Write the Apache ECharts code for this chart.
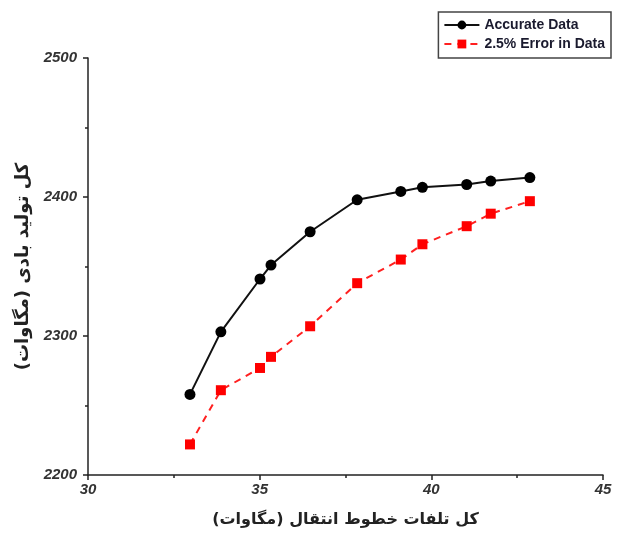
<!DOCTYPE html>
<html>
<head>
<meta charset="utf-8">
<script src="https://cdn.jsdelivr.net/npm/echarts@6/dist/echarts.min.js"></script>
<style>
html,body{margin:0;padding:0;background:#fff;}
#main{width:619px;height:533px;}
</style>
</head>
<body>
<div id="main"></div>
<script>
// داده‌ها - خوانده شده از تصویر
var lossX = [32.97, 33.87, 35.01, 35.33, 36.47, 37.84, 39.11, 39.74, 41.03, 41.73, 42.87];
var accurate = [2258, 2303, 2341, 2351, 2375, 2398, 2404, 2407, 2409, 2411.5, 2414];
var withError = [2222, 2261, 2277, 2285, 2307, 2338, 2355, 2366, 2379, 2388, 2397];
var seriesNames = ['Accurate Data', '2.5% Error in Data'];

function pairs(xs, ys){
	var out = [];
	for (var i = 0; i < xs.length; i++) {
		out.push([xs[i], ys[i]]);
	}
	return out;
}

var myChart = echarts.init(document.getElementById('main'));
var tickFont = {fontFamily:'Liberation Sans', fontWeight:'bold', fontStyle:'italic', fontSize:15, color:'#333'};

var option = {
	backgroundColor:'#fff',
	animation:false,
	grid:{left:88, right:16, top:58, bottom:58, outerBoundsMode:'none'},
	legend:{//图例
		right:8, top:12,
		orient:'vertical',
		borderColor:'#444', borderWidth:1.5,
		padding:[6,6,7,5],
		itemGap:5,
		itemWidth:35, itemHeight:11,
		textStyle:{fontFamily:'Liberation Sans', fontWeight:'bold', fontSize:14, color:'#1a1a2e'},
		data:seriesNames
	},
	xAxis:{
		type:'value',
		min:30, max:45, interval:5,
		name:'کل تلفات خطوط انتقال (مگاوات)',
		nameLocation:'middle', nameGap:37,
		nameTextStyle:{fontFamily:'DejaVu Sans', fontWeight:'bold', fontSize:16, color:'#222'},
		axisLine:{lineStyle:{color:'#222', width:1.5}},
		axisTick:{show:true, inside:false, length:5, lineStyle:{color:'#222', width:1.5}},
		minorTick:{show:true, splitNumber:2, length:3, lineStyle:{color:'#222', width:1.5}},
		splitLine:{show:false},
		axisLabel:Object.assign({margin:7}, tickFont)
	},
	yAxis:{
		type:'value',
		min:2200, max:2500, interval:100,
		name:'کل تولید بادی (مگاوات)',
		nameLocation:'middle', nameGap:55, nameRotate:90,
		nameTextStyle:{fontFamily:'DejaVu Sans', fontWeight:'bold', fontSize:18, color:'#222'},
		axisLine:{show:true, lineStyle:{color:'#222', width:1.5}},
		axisTick:{show:true, inside:false, length:5, lineStyle:{color:'#222', width:1.5}},
		minorTick:{show:true, splitNumber:2, length:3, lineStyle:{color:'#222', width:1.5}},
		splitLine:{show:false},
		axisLabel:Object.assign({margin:11, formatter:function(v){ return String(v); }}, tickFont)
	},
	series:[{
		name:seriesNames[0],
		type:'line',
		data:pairs(lossX, accurate),
		symbol:'circle', symbolSize:11,
		itemStyle:{color:'#000'},
		lineStyle:{color:'#111', width:2}
	},{
		name:seriesNames[1],
		type:'line',
		data:pairs(lossX, withError),
		symbol:'rect', symbolSize:10,
		itemStyle:{color:'#ff0000'},
		lineStyle:{color:'#ff2020', width:2, type:[7,6]}
	}]
};
myChart.setOption(option);
</script>
</body>
</html>
